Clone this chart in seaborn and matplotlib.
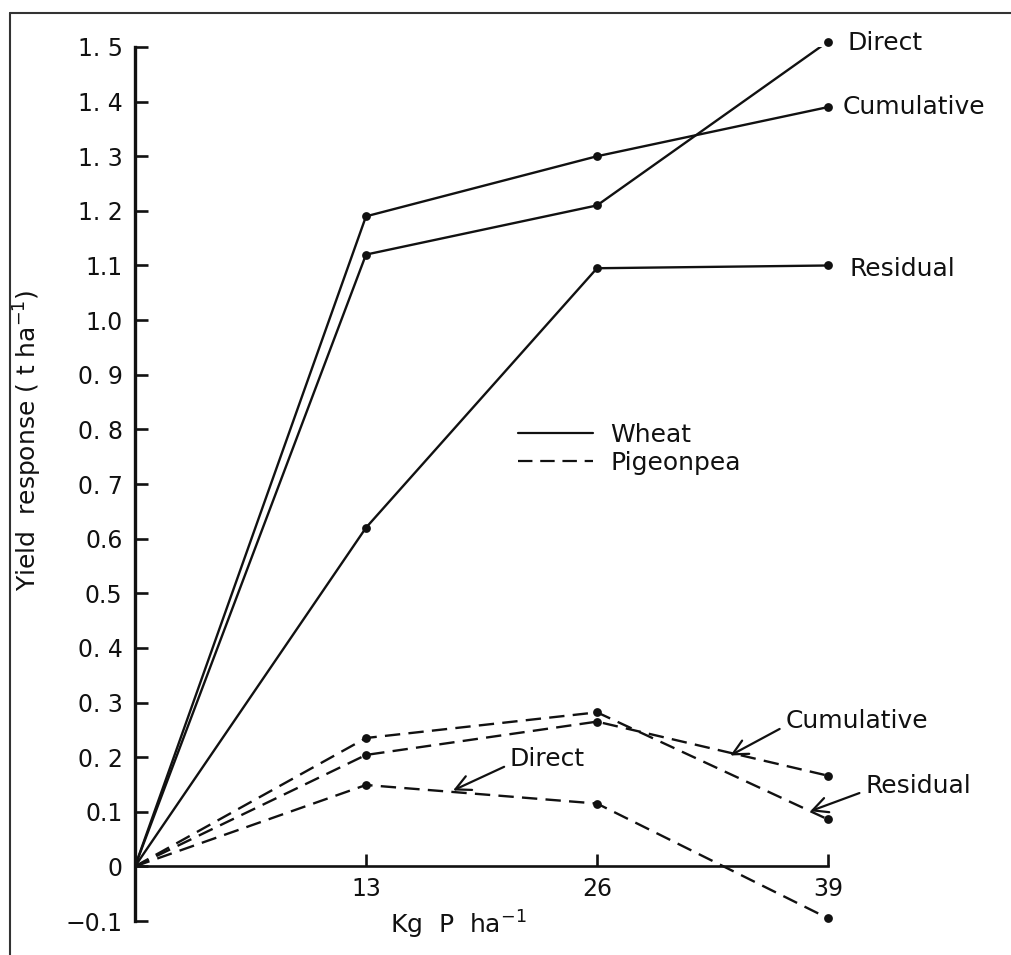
import matplotlib
matplotlib.use("Agg")
import matplotlib.pyplot as plt
from matplotlib.lines import Line2D
import seaborn as sns
import pandas as pd

# ---- data ----
p_rates = [0, 13, 26, 39]
x_ticks = [13, 26, 39]
y_ticks = [-0.1, 0, 0.1, 0.2, 0.3, 0.4, 0.5, 0.6, 0.7, 0.8, 0.9, 1.0, 1.1, 1.2, 1.3, 1.4, 1.5]
y_tick_labels = ["\u22120.1", "0", "0.1", "0. 2", "0. 3", "0. 4", "0.5", "0.6", "0. 7", "0. 8",
                 "0. 9", "1.0", "1.1", "1. 2", "1. 3", "1. 4", "1. 5"]

wheat_direct = [0, 1.12, 1.21, 1.51]
wheat_cumulative = [0, 1.19, 1.30, 1.39]
wheat_residual = [0, 0.62, 1.095, 1.10]

pigeonpea_direct = [0, 0.149, 0.115, -0.095]
pigeonpea_cumulative = [0, 0.204, 0.265, 0.166]
pigeonpea_residual = [0, 0.235, 0.282, 0.086]

crops = ["Wheat", "Pigeonpea"]
effects = ["Direct", "Cumulative", "Residual"]

rows = []
for crop, series in zip(crops, [[wheat_direct, wheat_cumulative, wheat_residual],
                                [pigeonpea_direct, pigeonpea_cumulative, pigeonpea_residual]]):
    for eff, vals in zip(effects, series):
        for xv, yv in zip(p_rates, vals):
            rows.append({"crop": crop, "effect": eff, "P": xv, "yield": yv})
df = pd.DataFrame(rows)

# ---- style ----
sns.set_style("ticks")
plt.rcParams["font.family"] = ["DejaVu Sans"]

fig = plt.figure(figsize=(10.12, 9.55), dpi=100)
ax = fig.add_axes([135 / 1012, 1 - 921 / 955, (828 - 135) / 1012, (921 - 47) / 955])

ink = "#111111"
dash = (0, (6.5, 3.5))
fs_tick = 17
fs_text = 18

for crop in crops:
    for eff in effects:
        sub = df[(df.crop == crop) & (df.effect == eff)]
        sns.lineplot(data=sub, x="P", y="yield", ax=ax, color=ink, lw=1.7,
                     linestyle="-" if crop == "Wheat" else dash,
                     estimator=None, sort=False, legend=False)
        pts = sub[sub.P > 0]
        sns.scatterplot(data=pts, x="P", y="yield", ax=ax, color=ink, s=40,
                        edgecolor=ink, linewidth=0, clip_on=False, legend=False, zorder=5)

ax.set_xlim(0, 39)
ax.set_ylim(-0.1, 1.5)

# spines
for s in ["top", "right"]:
    ax.spines[s].set_visible(False)
ax.spines["bottom"].set_position(("data", 0))
ax.spines["left"].set_linewidth(2.4)
ax.spines["bottom"].set_linewidth(1.9)
ax.spines["left"].set_color(ink)
ax.spines["bottom"].set_color(ink)

ax.set_xticks(x_ticks)
ax.set_xticklabels([str(t) for t in x_ticks], fontsize=fs_tick)
ax.set_yticks(y_ticks)
ax.set_yticklabels(y_tick_labels, fontsize=fs_tick)
ax.tick_params(axis="y", direction="in", length=9, width=1.9, pad=9, colors=ink)
ax.tick_params(axis="x", direction="in", length=9, width=1.9, pad=8, colors=ink)

ax.set_xlabel("Kg  P  ha$^{-1}$", fontsize=fs_text, color=ink)
ax.xaxis.set_label_coords(0.466, 0.014)
ax.set_ylabel("Yield  response ( t ha$^{-1}$)", fontsize=fs_text, color=ink)
ax.yaxis.set_label_coords(-0.132, 0.55)

# wheat end labels
wheat_label_pos = {"Direct": (40.1, 1.507), "Cumulative": (39.8, 1.39), "Residual": (40.2, 1.093)}
for eff, (tx, ty) in wheat_label_pos.items():
    ax.text(tx, ty, eff, fontsize=fs_text, ha="left", va="center", color=ink, clip_on=False)

# pigeonpea labels with arrows
pp_label = {
    "Cumulative": ((36.6, 0.266), (33.5, 0.203)),
    "Residual": ((41.1, 0.147), (38.0, 0.101)),
    "Direct": ((21.1, 0.196), (17.9, 0.139)),
}
for eff, (txt_xy, head_xy) in pp_label.items():
    ax.annotate(eff, xy=head_xy, xytext=txt_xy, fontsize=fs_text, ha="left", va="center",
                color=ink, annotation_clip=False,
                arrowprops=dict(arrowstyle="->,head_length=0.6,head_width=0.3", color=ink,
                                lw=1.6, shrinkA=2, shrinkB=0, relpos=(0, 0.3)))

# legend
handles = [Line2D([], [], color=ink, lw=1.6, linestyle="-"),
           Line2D([], [], color=ink, lw=1.6, linestyle=dash)]
leg = ax.legend(handles, crops, loc="center left", bbox_to_anchor=(518 / 1012, 1 - 449 / 955),
                bbox_transform=fig.transFigure, frameon=False, fontsize=fs_text,
                handlelength=3.0, handletextpad=0.7, labelspacing=0.15, borderpad=0,
                borderaxespad=0)
for t in leg.get_texts():
    t.set_color(ink)

# scan frame (top and left edges)
fig.add_artist(Line2D([10 / 1012, 1.0], [1 - 13 / 955, 1 - 13 / 955], transform=fig.transFigure,
                      color="#333333", lw=1.5))
fig.add_artist(Line2D([10 / 1012, 10 / 1012], [0.0, 1 - 13 / 955], transform=fig.transFigure,
                      color="#333333", lw=1.5))

fig.savefig("out.png", dpi=100)
